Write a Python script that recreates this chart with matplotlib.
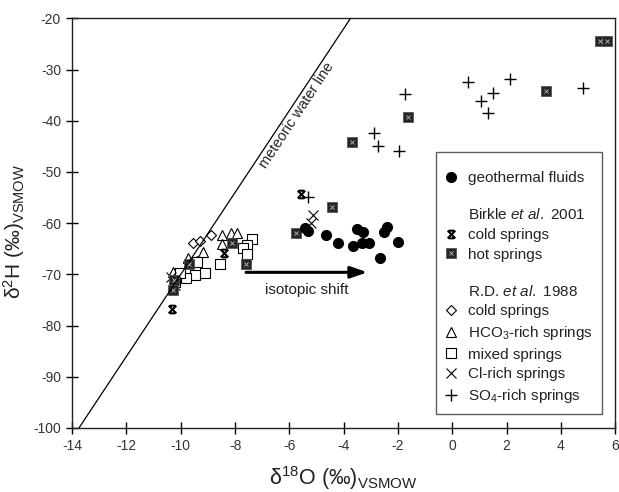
import numpy as np
import matplotlib
matplotlib.use("Agg")
import matplotlib.pyplot as plt
from matplotlib.path import Path
from matplotlib.lines import Line2D
from matplotlib.legend_handler import HandlerTuple

plt.rcParams['font.family'] = ['Liberation Sans', 'DejaVu Sans']
plt.rcParams['mathtext.fontset'] = 'custom'
plt.rcParams['mathtext.rm'] = 'Liberation Sans'
plt.rcParams['mathtext.it'] = 'Liberation Sans:italic'
plt.rcParams['mathtext.bf'] = 'Liberation Sans:bold'
plt.rcParams['axes.unicode_minus'] = False

# ---------------- data ----------------
geo_x = [-5.43, -5.30, -4.65, -4.20, -3.67, -3.52, -3.30, -3.34, -3.06, -2.66, -2.52, -2.39, -2.01]
geo_y = [-60.9, -61.6, -62.3, -63.9, -64.5, -61.2, -61.7, -63.9, -63.9, -66.8, -61.7, -60.8, -63.7]

bk_cold_x = [-8.41, -10.32, -5.58]
bk_cold_y = [-65.8, -76.8, -54.3]

bk_hot_x = [-4.44, -5.76, -3.71, 3.45, 5.44, 5.69, -1.63, -8.13, -7.60, -9.69, -10.25, -10.30]
bk_hot_y = [-56.9, -61.9, -44.1, -34.1, -24.4, -24.4, -39.2, -63.9, -67.9, -67.9, -71.1, -73.1]

rd_cold_x = [-9.56, -9.29, -8.90, -9.72, -9.41, -10.21, -10.05]
rd_cold_y = [-63.9, -63.4, -62.3, -67.5, -67.3, -69.7, -70.3]

hco3_x = [-8.47, -8.15, -7.92, -8.48, -9.19, -9.72, -10.30]
hco3_y = [-62.3, -61.9, -61.9, -64.1, -65.6, -66.9, -69.5]

mixed_x = [-7.39, -7.55, -7.72, -7.55, -8.56, -9.11, -9.39, -9.48, -9.81, -10.03, -10.20]
mixed_y = [-63.0, -64.3, -64.9, -66.0, -68.0, -69.8, -67.5, -70.1, -70.8, -69.8, -71.5]

cl_x = [-5.14, -5.22, -10.35, -10.20]
cl_y = [-58.4, -60.0, -70.5, -72.0]

so4_x = [0.57, 2.13, 1.51, 1.06, 1.33, 4.80, -2.87, -2.75, -1.95, -1.75, -5.30]
so4_y = [-32.4, -31.9, -34.5, -36.1, -38.4, -33.6, -42.3, -44.9, -46.0, -34.8, -54.8]

mwl_x = [-13.75, -3.75]          # meteoric water line: dD = 8 d18O + 10
mwl_slope, mwl_int = 8, 10

arrow_x = [-7.6, -3.13]
arrow_y = -69.6

x_ticks = [-14, -12, -10, -8, -6, -4, -2, 0, 2, 4, 6]
y_ticks = [-100, -90, -80, -70, -60, -50, -40, -30, -20]

# ---------------- figure ----------------
fig = plt.figure(figsize=(6.19, 4.92), dpi=100)
ax = fig.add_axes([0.1166, 0.1301, 0.8774, 0.8327])
ax.set_xlim(-14, 6)
ax.set_ylim(-100, -20)

mx = np.array(mwl_x)
ax.plot(mx, mwl_slope * mx + mwl_int, color='black', lw=0.9, zorder=5)
ax.text(-5.72, -39.0, 'meteoric water line', rotation=56.5, rotation_mode='anchor',
        ha='center', va='center', fontsize=10.5, color='#222222')

xbar = Path([(-1, 1), (1, -1), (1, 1), (-1, -1),
             (-0.7, 1), (0.7, 1), (-0.7, -1), (0.7, -1)],
            [Path.MOVETO, Path.LINETO, Path.MOVETO, Path.LINETO,
             Path.MOVETO, Path.LINETO, Path.MOVETO, Path.LINETO])

kw_open = dict(ls='none', mfc='white', mec='black', mew=0.8)
h_rdc, = ax.plot(rd_cold_x, rd_cold_y, marker='D', ms=5.5, zorder=3, **kw_open)
h_hco, = ax.plot(hco3_x, hco3_y, marker='^', ms=7.5, zorder=3, **kw_open)
h_mix, = ax.plot(mixed_x, mixed_y, marker='s', ms=7, zorder=3, **kw_open)
h_cl, = ax.plot(cl_x, cl_y, ls='none', marker='x', ms=7, mec='black', mew=0.8, zorder=4)
h_so4, = ax.plot(so4_x, so4_y, ls='none', marker='+', ms=8.5, mec='black', mew=1.0, zorder=4)
h_hot1, = ax.plot(bk_hot_x, bk_hot_y, ls='none', marker='s', ms=7.5, mfc='#262626',
                  mec='#555555', mew=0.6, zorder=4)
h_hot2, = ax.plot(bk_hot_x, bk_hot_y, ls='none', marker='x', ms=3.5, mec='#bbbbbb',
                  mew=0.6, zorder=4)
h_bkc, = ax.plot(bk_cold_x, bk_cold_y, ls='none', marker=xbar, ms=5.5, mfc='none',
                 mec='black', mew=1.5, zorder=4)
h_geo, = ax.plot(geo_x, geo_y, ls='none', marker='o', ms=7, mfc='black', mec='black', zorder=4)

ax.annotate('', xy=(arrow_x[1], arrow_y), xytext=(arrow_x[0], arrow_y),
            arrowprops=dict(arrowstyle='-|>,head_length=1.0,head_width=0.35',
                            color='black', lw=2.2, shrinkA=0, shrinkB=0), zorder=6)
ax.text(np.mean(arrow_x), -73.1, 'isotopic shift', ha='center', va='center',
        fontsize=11, color='#222222')

ax.set_xticks(x_ticks)
ax.set_yticks(y_ticks)
ax.tick_params(direction='inout', length=8, width=1, labelsize=10, labelcolor='#333333',
               pad=4)
for s in ax.spines.values():
    s.set_linewidth(1.0)
    s.set_color('#222222')

ax.set_xlabel(r'$\mathrm{δ}^{18}$O (‰)$_{\mathrm{VSMOW}}$', fontsize=15.5, color='#222222')
ax.set_ylabel(r'$\mathrm{δ}^{2}$H (‰)$_{\mathrm{VSMOW}}$', fontsize=15, color='#222222')
ax.xaxis.set_label_coords(0.5, -0.088)
ax.yaxis.set_label_coords(-0.083, 0.48)

blank = Line2D([], [], ls='none', marker='none')
handles = [h_geo, blank, h_bkc, (h_hot1, h_hot2), blank, h_rdc, h_hco, h_mix, h_cl, h_so4]
labels = ['geothermal fluids',
          '\nBirkle $\\mathit{et\\ al.}$ 2001',
          'cold springs', 'hot springs',
          '\nR.D. $\\mathit{et\\ al.}$ 1988',
          'cold springs', 'HCO$_3$-rich springs', 'mixed springs',
          'Cl-rich springs', 'SO$_4$-rich springs']
leg = ax.legend(handles, labels, loc='lower right', bbox_to_anchor=(0.975, 0.034),
                borderaxespad=0, fontsize=11, frameon=True, fancybox=False,
                handlelength=0.8, handletextpad=0.7, labelspacing=0.37,
                borderpad=0.6, numpoints=1, title=' ', title_fontsize=2,
                handler_map={tuple: HandlerTuple(ndivide=1, pad=0)})
leg.get_frame().set_edgecolor('#333333')
leg.get_frame().set_linewidth(1.0)
for t in leg.get_texts():
    t.set_color('#222222')

fig.savefig('out.png', dpi=100)
